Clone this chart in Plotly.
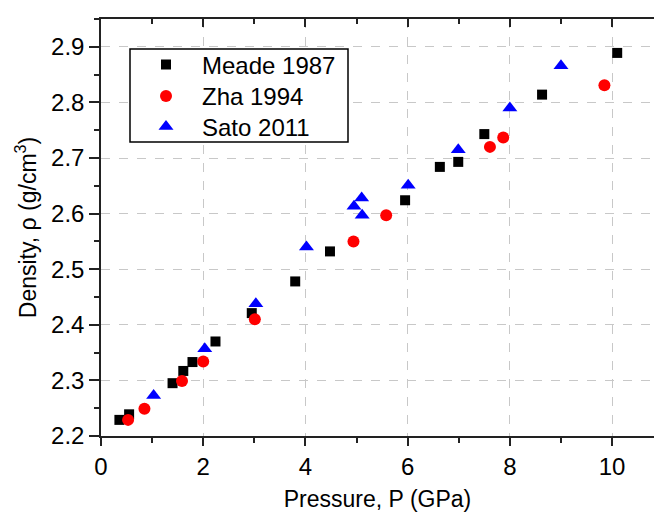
import plotly.graph_objects as go

# Data
meade_p = [0.36, 0.55, 1.40, 1.61, 1.79, 2.24, 2.95, 3.80, 4.48, 5.95, 6.63, 6.99, 7.50, 8.63, 10.10]
meade_rho = [2.229, 2.239, 2.295, 2.317, 2.333, 2.370, 2.421, 2.478, 2.532, 2.624, 2.684, 2.693, 2.743, 2.814, 2.889]

zha_p = [0.53, 0.85, 1.585, 2.00, 3.01, 4.94, 5.58, 7.61, 7.87, 9.85]
zha_rho = [2.229, 2.249, 2.299, 2.334, 2.410, 2.550, 2.597, 2.720, 2.737, 2.831]

sato_p = [1.03, 2.03, 3.03, 4.02, 4.95, 5.10, 5.11, 6.01, 6.99, 8.00, 9.00]
sato_rho = [2.273, 2.357, 2.438, 2.540, 2.613, 2.628, 2.597, 2.651, 2.715, 2.790, 2.866]

x_ticks = [0, 2, 4, 6, 8, 10]
y_ticks = [2.2, 2.3, 2.4, 2.5, 2.6, 2.7, 2.8, 2.9]

FONT = "Arial, Liberation Sans, sans-serif"

# plot-area pixel geometry helpers (for legend placement only)
L, T, B, R = 101, 19, 436, 654
def px_x(p):
    return (p - L) / (R - L)
def px_y(p):
    return (B - p) / (B - T)

fig = go.Figure()
fig.add_trace(go.Scatter(x=meade_p, y=meade_rho, mode="markers", name="Meade 1987", legend="legend",
                         marker=dict(symbol="square", size=10, color="black")))
fig.add_trace(go.Scatter(x=zha_p, y=zha_rho, mode="markers", name="Zha 1994", legend="legend2",
                         marker=dict(symbol="circle", size=12, color="#ff0000")))
fig.add_trace(go.Scatter(x=sato_p, y=sato_rho, mode="markers", name="Sato 2011", legend="legend3",
                         marker=dict(symbol="triangle-up", size=13, color="#0000ff")))
# helper trace to display top axis
fig.add_trace(go.Scatter(x=[None], y=[None], xaxis="x2", showlegend=False, hoverinfo="skip"))

# legend frame
fig.add_shape(type="rect", xref="paper", yref="paper",
              x0=px_x(130), x1=px_x(348), y0=px_y(142), y1=px_y(49),
              line=dict(color="black", width=1.5), fillcolor="white", layer="above")

def leg(row_px):
    return dict(x=px_x(130), y=px_y(row_px), xanchor="left", yanchor="middle",
                borderwidth=0, bgcolor="rgba(0,0,0,0)",
                font=dict(size=24), itemwidth=62)

fig.update_layout(
    width=654, height=516,
    margin=dict(l=101, r=0, t=19, b=80),
    paper_bgcolor="white", plot_bgcolor="white",
    font=dict(family=FONT, size=24, color="black"),
    showlegend=True,
    legend=leg(65), legend2=leg(96.5), legend3=leg(127),
    xaxis=dict(range=[0, 10.82], tickvals=x_ticks, ticks="outside", ticklen=8, tickwidth=1.5,
               tickcolor="#222", showline=True, linecolor="#222", linewidth=1.5,
               showgrid=True, gridcolor="#c8c8c8", griddash="dash", gridwidth=1,
               zeroline=False, minor=dict(dtick=1, tick0=0, ticks="outside", ticklen=5,
                                          tickcolor="#222", tickwidth=1.5, showgrid=False),
               title=dict(text="Pressure, P (GPa)", standoff=12, font=dict(size=23)),
               tickfont=dict(size=24)),
    xaxis2=dict(range=[0, 10.82], overlaying="x", side="top", tickvals=x_ticks,
                ticks="inside", ticklen=8, tickwidth=1.5, tickcolor="#222",
                showline=True, linecolor="#222", linewidth=1.5, showgrid=False,
                showticklabels=False, zeroline=False,
                minor=dict(dtick=1, tick0=0, ticks="inside", ticklen=5, tickcolor="#222",
                           tickwidth=1.5, showgrid=False)),
    yaxis=dict(range=[2.2, 2.95], tickvals=y_ticks, ticktext=[f"{v:.1f}" for v in y_ticks],
               ticks="outside", ticklen=10, tickwidth=1.5, tickcolor="#222",
               showline=True, linecolor="#222", linewidth=1.5,
               showgrid=True, gridcolor="#c8c8c8", griddash="dash", gridwidth=1,
               zeroline=False, minor=dict(dtick=0.05, tick0=2.2, ticks="outside", ticklen=5,
                                          tickcolor="#222", tickwidth=1.5, showgrid=False),
               title=dict(text="Density, ρ (g/cm<sup>3</sup>)", standoff=8, font=dict(size=23)),
               tickfont=dict(size=24)),
)

fig.write_html("out.html")
